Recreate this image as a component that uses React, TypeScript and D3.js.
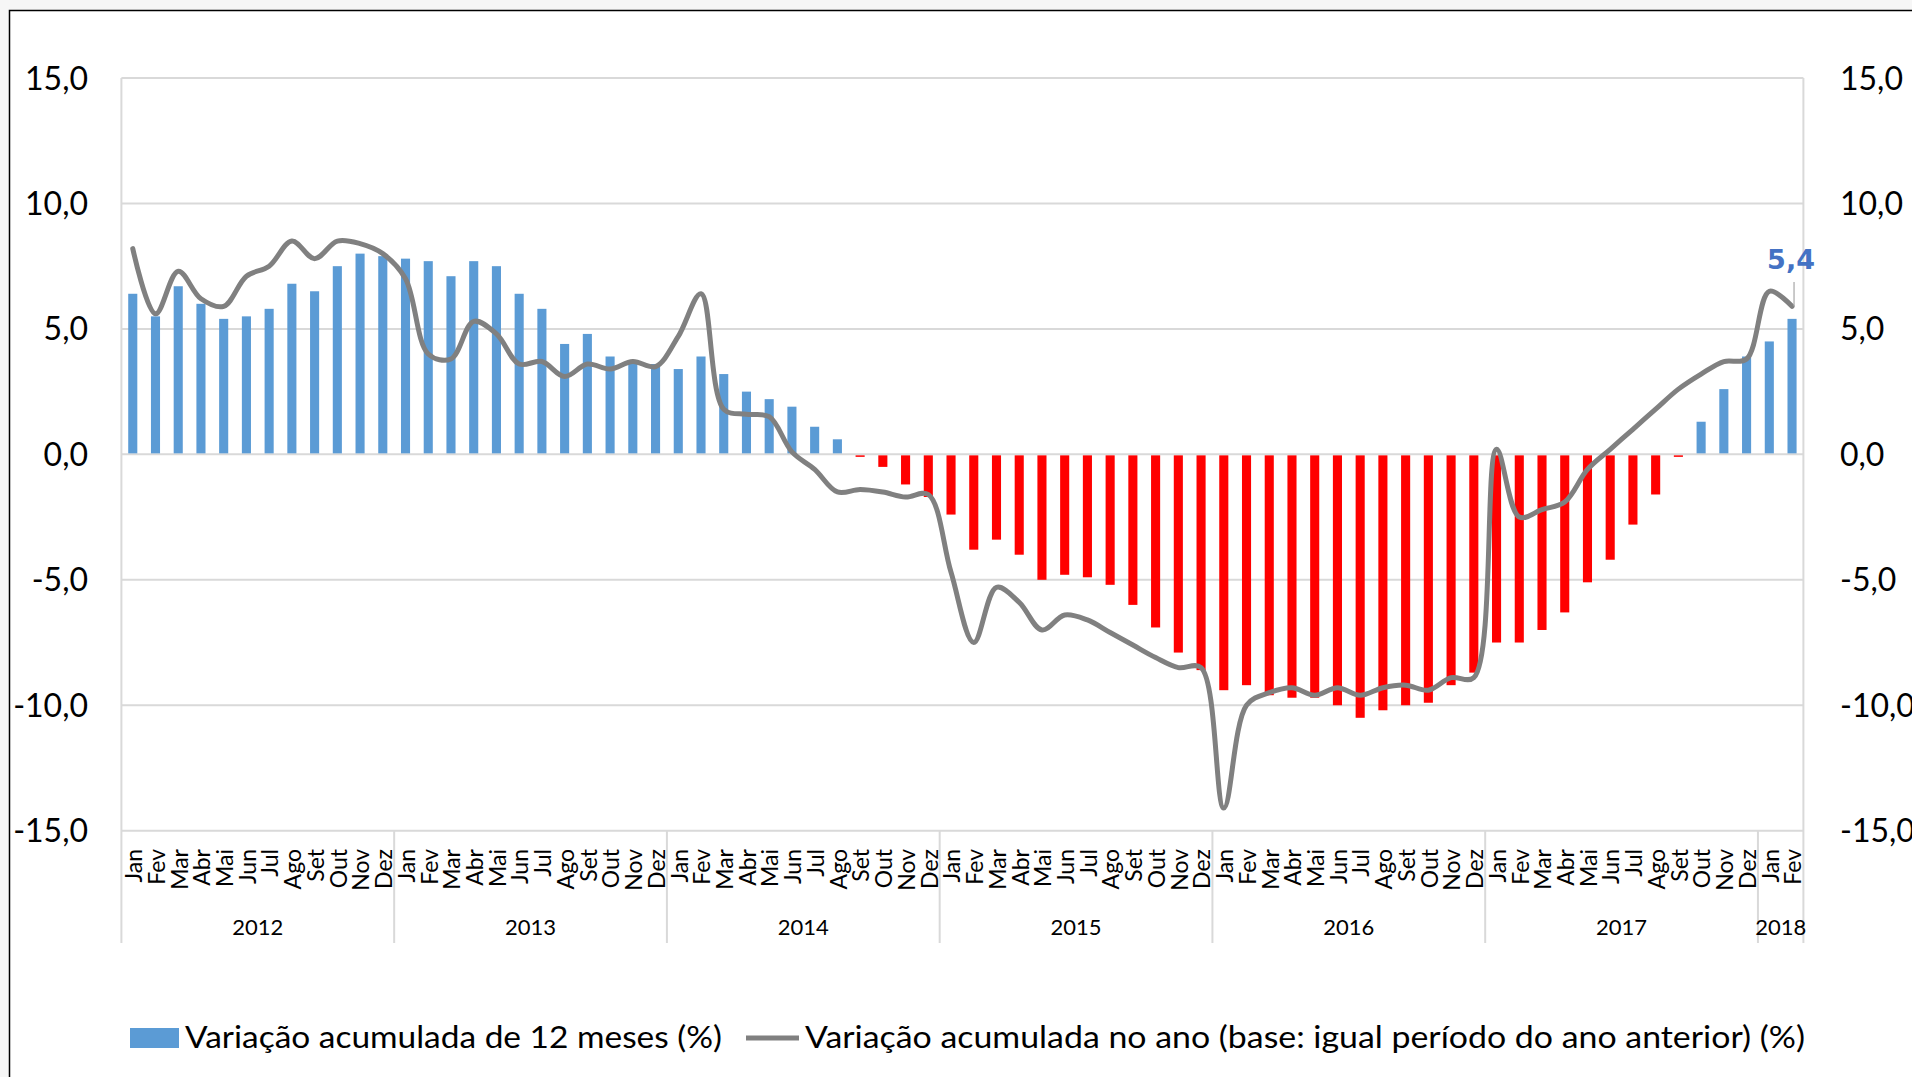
import React, { useEffect } from 'react'
import * as d3 from 'd3'

// meses e anos do eixo x
const monthNames = ['Jan', 'Fev', 'Mar', 'Abr', 'Mai', 'Jun', 'Jul', 'Ago', 'Set', 'Out', 'Nov', 'Dez']
const years = ['2012', '2013', '2014', '2015', '2016', '2017', '2018']
const monthsPerYear = [12, 12, 12, 12, 12, 12, 2]

// variação acumulada de 12 meses (%) - barras
const var12 = [
  6.4, 5.5, 6.7, 6.0, 5.4, 5.5, 5.8, 6.8, 6.5, 7.5, 8.0, 7.9,
  7.8, 7.7, 7.1, 7.7, 7.5, 6.4, 5.8, 4.4, 4.8, 3.9, 3.7, 3.6,
  3.4, 3.9, 3.2, 2.5, 2.2, 1.9, 1.1, 0.6, -0.1, -0.5, -1.2, -1.7,
  -2.4, -3.8, -3.4, -4.0, -5.0, -4.8, -4.9, -5.2, -6.0, -6.9, -7.9, -8.6,
  -9.4, -9.2, -9.6, -9.7, -9.7, -10.0, -10.5, -10.2, -10.0, -9.9, -9.2, -8.7,
  -7.5, -7.5, -7.0, -6.3, -5.1, -4.2, -2.8, -1.6, -0.1, 1.3, 2.6, 3.9,
  4.5, 5.4,
]

// variação acumulada no ano (%) - linha
const varAno = [
  8.2, 5.6, 7.3, 6.2, 5.9, 7.1, 7.5, 8.5, 7.8, 8.5, 8.4, 8.0,
  7.0, 4.0, 3.8, 5.3, 4.8, 3.6, 3.7, 3.1, 3.6, 3.4, 3.7, 3.5,
  4.7, 6.4, 1.8, 1.6, 1.5, 0.1, -0.6, -1.5, -1.4, -1.5, -1.7, -1.6,
  -4.7, -7.5, -5.3, -5.9, -7.0, -6.4, -6.6, -7.1, -7.6, -8.1, -8.5, -8.5,
  -14.1, -10.0, -9.5, -9.3, -9.6, -9.3, -9.6, -9.3, -9.2, -9.4, -8.9, -8.9,
  0.2, -2.5, -2.2, -1.9, -0.6, 0.2, 1.0, 1.8, 2.6, 3.2, 3.7, 3.8,
  6.5, 5.9,
]

const yTicks = [15, 10, 5, 0, -5, -10, -15]

const legendBar = 'Variação acumulada de 12 meses (%)'
const legendLine = 'Variação acumulada no ano (base: igual período do ano anterior) (%)'

const W = 1912
const H = 1077
const FONT = 'Lato, "Open Sans", sans-serif'

const fmt = (v: number) => d3.format('.1f')(v).replace('.', ',').replace('−', '-')

const App = () => {
  useEffect(() => {
    document.body.style.margin = '0'
    document.body.style.overflow = 'hidden'
  }, [])

  // categorias: um rótulo por mês
  const cats: { month: string; year: string }[] = []
  years.forEach((yr, k) => {
    for (let m = 0; m < monthsPerYear[k]; m++) cats.push({ month: monthNames[m], year: yr })
  })
  const idx = cats.map((_, i) => i)

  const plot = { left: 121.4, right: 1803.4, top: 78, bottom: 830.7 }

  const x = d3.scaleBand<number>()
    .domain(idx)
    .range([plot.left, plot.right])
    .paddingInner(0.6)
    .paddingOuter(0.3)
  const step = x.step()
  const cx = (i: number) => (x(i) as number) + x.bandwidth() / 2

  const y = d3.scaleLinear().domain([-15, 15]).range([plot.bottom, plot.top])

  const line = d3.line<number>()
    .x((_, i) => cx(i))
    .y((d) => y(d))
    .curve(d3.curveCatmullRom.alpha(0.5))

  // limites dos anos
  const yearBounds: { year: string; start: number; end: number }[] = []
  let acc = 0
  years.forEach((yr, k) => {
    const start = plot.left + acc * step
    acc += monthsPerYear[k]
    yearBounds.push({ year: yr, start, end: plot.left + acc * step })
  })

  const last = idx.length - 1
  const axisBottom = 943

  return (
    <svg width={W} height={H} style={{ display: 'block', background: '#f6f6f6' }}>
      <rect x={9.5} y={10.5} width={2000} height={2000} fill="#ffffff" stroke="#000" strokeWidth={1.5} />

      {/* grade horizontal */}
      {yTicks.map((t) => (
        <line key={t} x1={plot.left} x2={plot.right} y1={y(t)} y2={y(t)} stroke="#d9d9d9" strokeWidth={2} />
      ))}
      {/* laterais + separadores de ano */}
      <line x1={plot.left} x2={plot.left} y1={plot.top} y2={axisBottom} stroke="#d9d9d9" strokeWidth={2} />
      <line x1={plot.right} x2={plot.right} y1={plot.top} y2={axisBottom} stroke="#d9d9d9" strokeWidth={2} />
      {yearBounds.slice(0, -1).map((b) => (
        <line key={b.year} x1={b.end} x2={b.end} y1={plot.bottom} y2={axisBottom} stroke="#d9d9d9" strokeWidth={2} />
      ))}

      {/* barras */}
      {var12.map((v, i) => (
        <rect
          key={i}
          x={x(i)}
          y={v >= 0 ? y(v) : y(0) + 1}
          width={x.bandwidth()}
          height={Math.max(1, Math.abs(y(v) - y(0)) - 1)}
          fill={v >= 0 ? '#5b9bd5' : '#ff0000'}
        />
      ))}

      {/* linha */}
      <path d={line(varAno) || ''} fill="none" stroke="#808080" strokeWidth={5} strokeLinejoin="round" strokeLinecap="round" />

      {/* rótulo de dado */}
      <line x1={cx(last) + 2} x2={cx(last) + 2} y1={282} y2={y(varAno[last])} stroke="#a6a6a6" strokeWidth={1.2} />
      <text x={cx(last) - 1} y={269} textAnchor="middle" fontFamily='"DejaVu Sans", sans-serif' fontWeight="bold" fontSize={27} fill="#4472c4">
        {fmt(var12[last])}
      </text>

      {/* eixos y */}
      {yTicks.map((t) => (
        <g key={'yl' + t} fontFamily={FONT} fontSize={32} fill="#000">
          <text x={88} y={y(t)} dy="0.36em" textAnchor="end">{fmt(t)}</text>
          <text x={1840} y={y(t)} dy="0.36em" textAnchor="start">{fmt(t)}</text>
        </g>
      ))}

      {/* meses */}
      {cats.map((c, i) => (
        <text
          key={'m' + i}
          transform={`translate(${cx(i) + 1},849) rotate(-90)`}
          dy="0.36em"
          textAnchor="end"
          fontFamily={FONT}
          fontSize={23}
          fill="#000"
        >
          {c.month}
        </text>
      ))}

      {/* anos */}
      {yearBounds.map((b) => (
        <text key={'y' + b.year} x={(b.start + b.end) / 2} y={935} textAnchor="middle" fontFamily={FONT} fontSize={22} fill="#000">
          {b.year}
        </text>
      ))}

      {/* legenda */}
      <rect x={130} y={1028} width={49} height={20} fill="#5b9bd5" />
      <text x={185} y={1048} fontFamily={FONT} fontSize={30} fill="#000" textLength={537} lengthAdjust="spacingAndGlyphs">
        {legendBar}
      </text>
      <line x1={746} x2={799} y1={1038} y2={1038} stroke="#808080" strokeWidth={5} />
      <text x={805} y={1048} fontFamily={FONT} fontSize={30} fill="#000" textLength={1000} lengthAdjust="spacingAndGlyphs">
        {legendLine}
      </text>
    </svg>
  )
}

export default App
